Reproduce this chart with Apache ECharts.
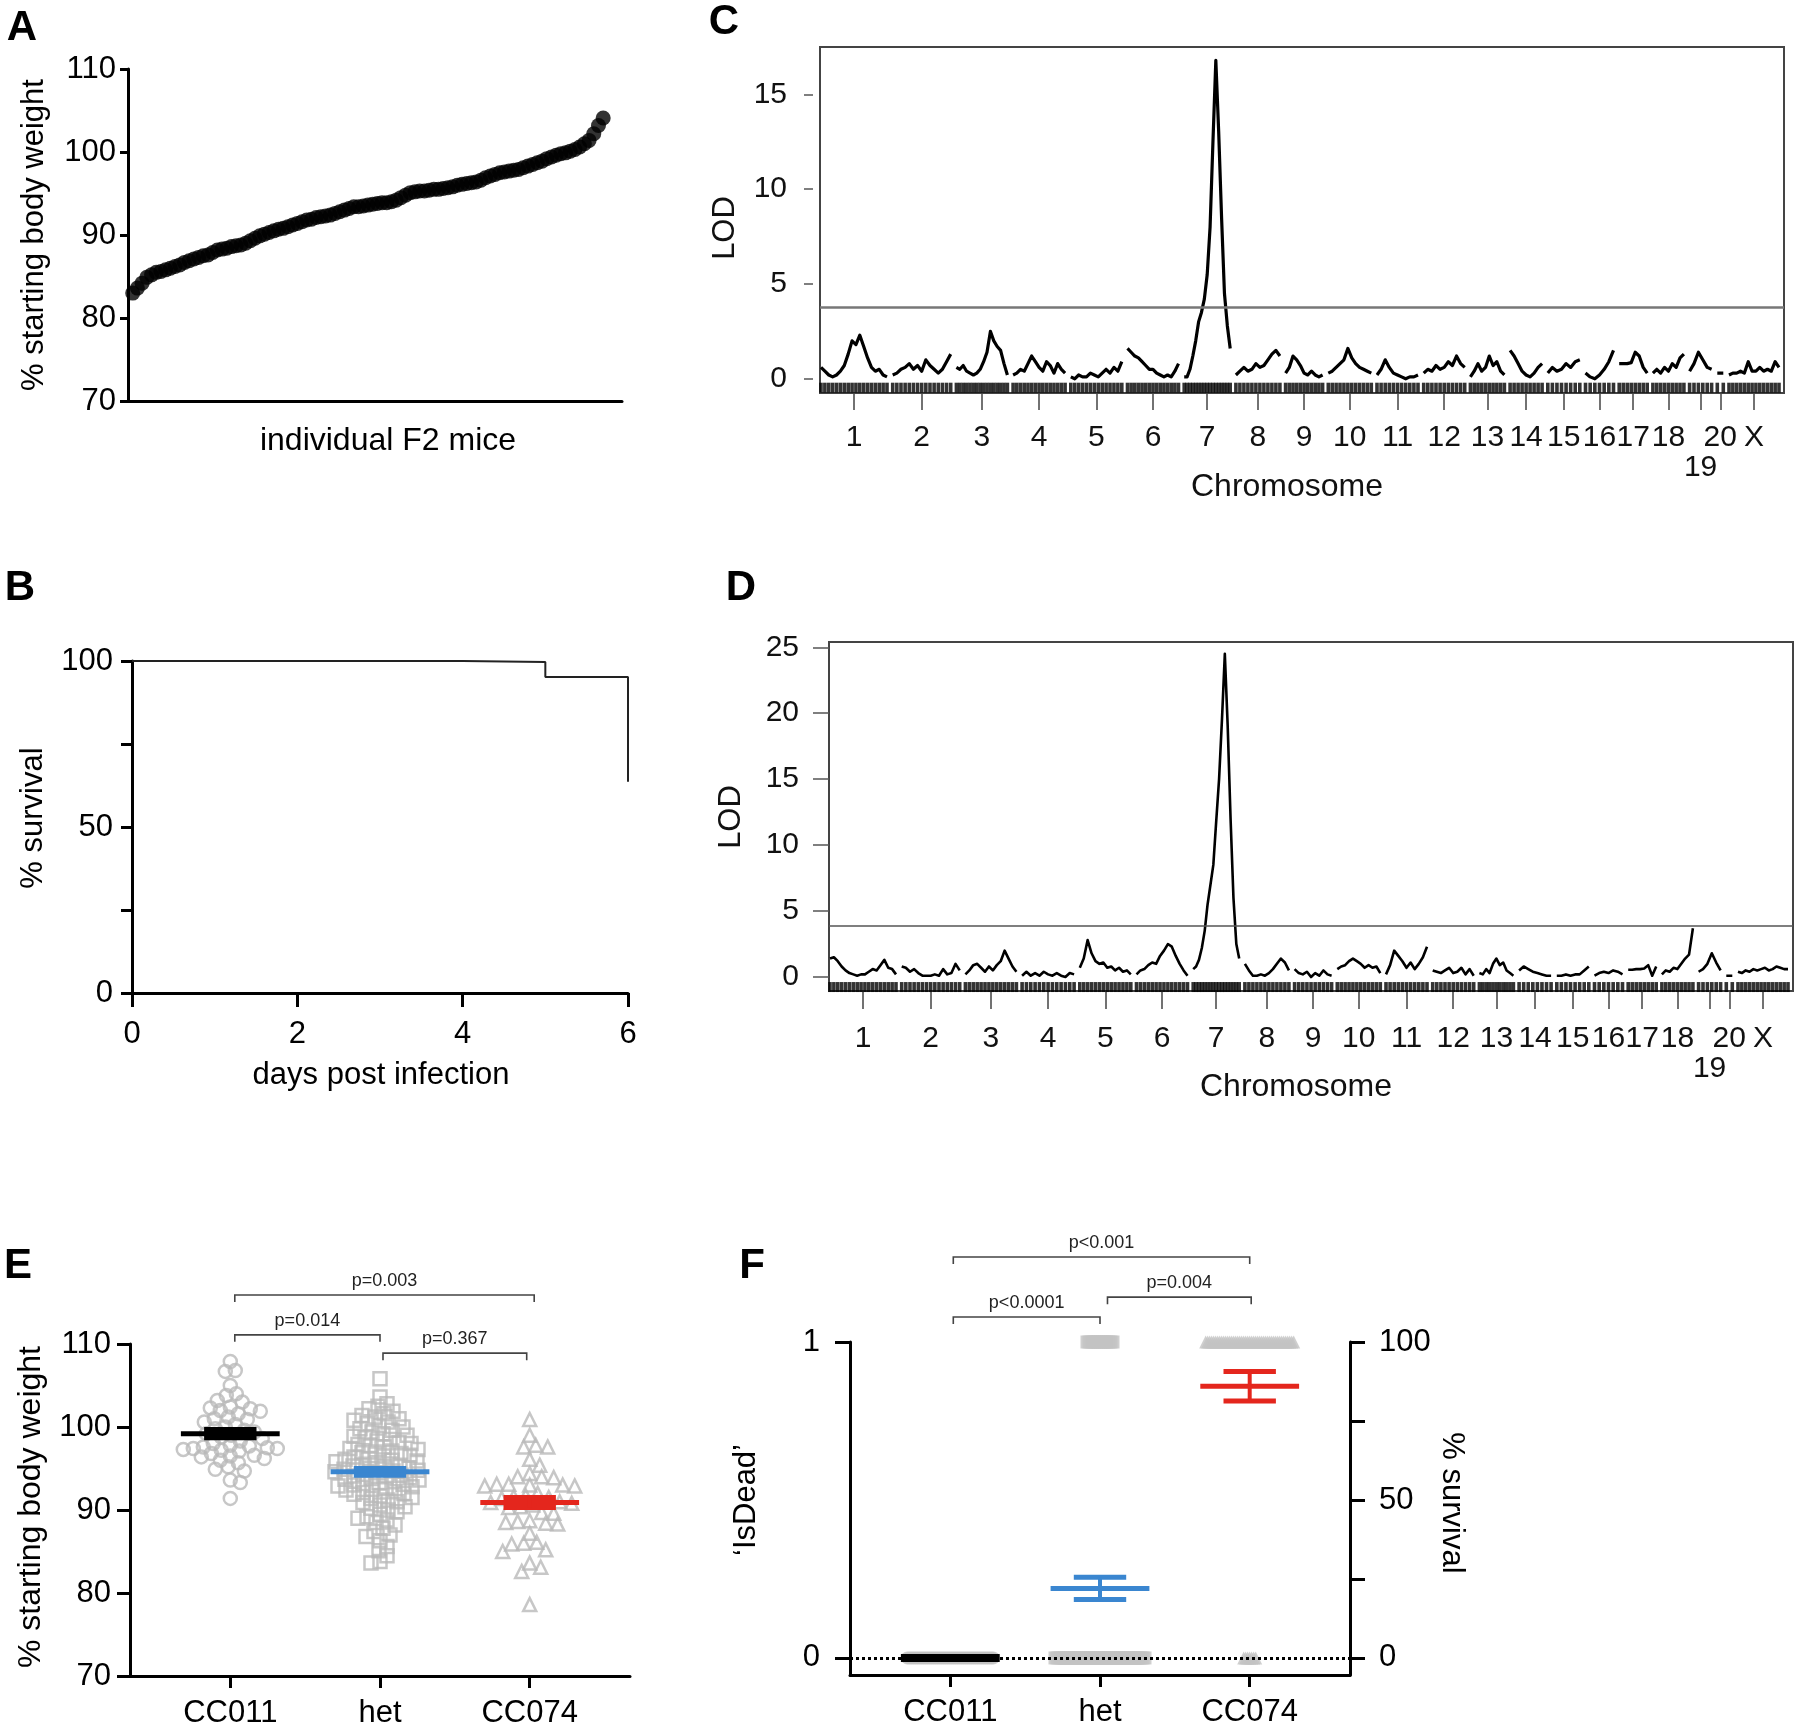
<!DOCTYPE html>
<html><head><meta charset="utf-8">
<script src="https://cdn.jsdelivr.net/npm/echarts@6/dist/echarts.min.js"></script>
<style>html,body{margin:0;padding:0;background:#fff}#c{width:1800px;height:1729px}</style>
</head><body><div id="c"></div>
<script>
// ================= DATA =================
// A: individual F2 mice, sorted % starting body weight
const weightF2 = [83.0,83.6,84.2,84.9,85.2,85.5,85.6,85.8,86.0,86.2,86.4,86.7,86.9,87.1,87.3,87.5,87.6,87.9,88.2,88.3,
88.4,88.6,88.7,88.8,89.0,89.3,89.6,89.9,90.1,90.3,90.5,90.7,90.8,91.0,91.2,91.4,91.6,91.8,91.9,92.1,
92.2,92.3,92.4,92.6,92.8,93.0,93.2,93.4,93.4,93.5,93.6,93.7,93.8,93.9,93.9,94.0,94.2,94.5,94.8,95.1,
95.2,95.3,95.3,95.4,95.5,95.5,95.6,95.7,95.8,96.0,96.1,96.2,96.3,96.4,96.6,96.9,97.1,97.3,97.5,97.6,
97.7,97.8,97.9,98.1,98.3,98.5,98.7,98.9,99.2,99.4,99.6,99.8,99.9,100.1,100.3,100.6,101.0,101.4,102.2,103.2,104.1];
const yTicksWeight = [70, 80, 90, 100, 110];

// B: survival
const survivalDays = [0, 4, 5, 6];
const survivalPct = [100, 99.7, 95.2, 63.6];
const xTicksDays = [0, 2, 4, 6];
const yTicksSurvival = [0, 25, 50, 75, 100];
const yLabelsSurvival = [0, 50, 100];

// C/D: genome scans
const chromosomes = ['1','2','3','4','5','6','7','8','9','10','11','12','13','14','15','16','17','18','19','20','X'];
const chrLengths = [66,58,51,52,51,51,46,44,37,43,41,41,34,32,32,28,28,31,22,6,50];
const chrGap = 5.7;
const lodC = [
 [0.6,0.4,0.2,0.1,0.2,0.4,0.7,1.3,2.0,1.8,2.3,1.7,1.1,0.6,0.4,0.5,0.2,0.1],
 [0.2,0.3,0.5,0.6,0.8,0.5,0.7,0.4,1.0,0.7,0.5,0.3,0.5,0.9,1.3],
 [0.6,0.5,0.7,0.4,0.3,0.2,0.3,0.5,0.9,1.4,2.5,2.0,1.7,1.5,0.8,0.2],
 [0.2,0.3,0.5,0.4,0.8,1.2,0.9,0.6,0.4,0.9,0.7,0.3,0.8,0.5,0.3],
 [0.1,0.0,0.2,0.1,0.1,0.3,0.2,0.1,0.3,0.5,0.3,0.6,0.4,0.9],
 [1.6,1.4,1.2,1.1,0.9,0.7,0.5,0.5,0.3,0.2,0.1,0.2,0.1,0.4,0.8],
 [0.1,0.1,0.5,1.2,2.0,3.0,3.5,4.2,5.5,8.0,12.5,16.8,13.0,8.5,4.5,2.8,1.6],
 [0.2,0.4,0.6,0.4,0.5,0.8,0.6,0.7,1.0,1.3,1.5,1.2],
 [0.3,0.6,1.2,1.0,0.7,0.3,0.2,0.4,0.2,0.1,0.2],
 [0.3,0.4,0.6,0.8,1.0,1.6,1.1,0.8,0.6,0.5,0.4,0.3],
 [0.2,0.5,1.0,0.6,0.3,0.2,0.1,0.0,0.1,0.1,0.2],
 [0.3,0.5,0.4,0.7,0.5,0.6,0.9,0.7,1.2,0.8,0.6],
 [0.1,0.4,0.8,0.4,0.6,1.2,0.7,0.9,0.4,0.2],
 [1.5,1.2,0.8,0.4,0.2,0.1,0.3,0.6,0.8],
 [0.3,0.6,0.4,0.5,0.8,0.6,0.9,1.0],
 [0.3,0.1,0.0,0.2,0.5,0.9,1.5],
 [0.8,0.8,0.8,0.85,1.4,1.2,0.6,0.3],
 [0.3,0.5,0.3,0.6,0.4,0.8,0.6,1.1,1.3],
 [0.4,0.8,1.4,1.0,0.6,0.5],
 [0.3,0.3],
 [0.2,0.3,0.3,0.4,0.3,0.9,0.4,0.4,0.6,0.4,0.5,0.4,0.9,0.6]
];
const lodD = [
 [1.4,1.5,1.2,0.8,0.5,0.3,0.2,0.1,0.2,0.2,0.4,0.6,0.5,0.9,1.3,0.7,0.6,0.2],
 [0.8,0.7,0.4,0.6,0.3,0.1,0.1,0.1,0.2,0.1,0.6,0.2,0.3,1.0,0.5],
 [0.2,0.5,0.9,1.0,0.7,0.4,0.8,0.5,0.9,1.2,2.0,1.4,0.8,0.4],
 [0.1,0.4,0.1,0.3,0.1,0.4,0.2,0.1,0.3,0.1,0.0,0.3,0.2],
 [0.7,1.4,2.8,1.8,1.2,1.0,1.1,0.7,0.8,0.5,0.7,0.4,0.5,0.2],
 [0.2,0.5,0.6,0.9,1.1,1.0,1.6,2.0,2.5,2.3,1.6,1.0,0.5,0.1],
 [0.6,0.8,1.3,2.2,3.5,5.5,7.0,8.5,11.8,15.0,19.5,24.5,19.0,12.0,6.0,2.5,1.4],
 [1.0,0.5,0.1,0.1,0.2,0.1,0.3,0.6,1.0,1.4,1.1,0.5],
 [0.6,0.3,0.2,0.4,0.0,0.3,0.1,0.5,0.2,0.1],
 [0.6,0.8,0.9,1.2,1.4,1.2,1.0,0.7,0.9,0.7,0.8,0.3],
 [0.2,0.9,2.0,1.6,1.2,0.7,1.1,0.6,1.0,1.5,2.3],
 [0.5,0.4,0.3,0.5,0.7,0.3,0.4,0.7,0.2,0.6,0.1],
 [0.3,0.2,0.6,0.3,1.0,1.4,0.9,1.1,0.5,0.3,0.1],
 [0.5,0.8,0.6,0.4,0.3,0.2,0.1,0.1],
 [0.1,0.1,0.2,0.1,0.2,0.2,0.5,0.8],
 [0.1,0.3,0.4,0.3,0.5,0.4,0.2],
 [0.55,0.55,0.6,0.6,0.65,0.9,0.1,0.8],
 [0.2,0.5,0.4,0.7,0.6,1.0,1.4,1.7,3.7],
 [0.4,0.6,1.0,1.8,1.1,0.5],
 [0.1,0.1],
 [0.4,0.3,0.5,0.4,0.6,0.5,0.6,0.7,0.5,0.6,0.8,0.7,0.6,0.6]
];
const lodThresholdC = 3.75;
const lodThresholdD = 3.9;
const lodTicksC = [0, 5, 10, 15];
const lodTicksD = [0, 5, 10, 15, 20, 25];

// E: weight by genotype
const groups = ['CC011', 'het', 'CC074'];
const groupPos = [1, 2, 3];
const weightCC011 = [107.9,106.8,106.7,105.0,104.0,103.8,103.2,103.0,102.4,102.3,102.2,102.0,101.9,101.6,101.2,101.0,100.9,100.6,100.3,100.0,
99.8,99.6,99.4,99.2,99.0,98.8,98.6,98.3,98.0,97.8,97.7,97.6,97.5,97.4,97.4,97.3,97.2,97.1,96.8,96.6,96.5,96.4,96.2,96.0,95.7,95.2,94.9,94.7,93.6,93.3,91.4];
const weightHet = [105.8,103.6,102.8,102.5,102.2,101.9,101.6,101.4,101.2,101.0,100.8,100.6,100.4,100.2,100.0,99.8,99.6,99.4,99.2,99.0,
98.9,98.7,98.5,98.3,98.1,98.0,97.9,97.7,97.6,97.4,97.3,97.1,97.0,96.9,96.8,96.6,96.5,96.4,96.2,96.1,96.0,
95.9,95.8,95.7,95.5,95.4,95.3,95.2,95.1,95.0,94.9,94.8,94.7,94.6,94.5,94.3,94.2,94.1,94.0,
93.9,93.8,93.7,93.6,93.4,93.3,93.2,93.1,93.0,92.9,92.8,92.6,92.5,92.4,92.2,92.1,92.0,
91.9,91.7,91.5,91.4,91.2,91.0,90.9,90.6,90.4,90.2,90.0,89.8,89.5,89.2,89.0,88.8,88.5,88.2,87.8,87.4,87.0,86.8,86.3,85.6,85.1,84.5,83.8,83.6];
const weightCC074 = [100.9,99.0,97.8,97.6,97.6,96.1,95.4,94.4,94.0,94.0,93.9,93.1,93.1,93.0,93.0,92.9,92.9,92.0,91.7,91.6,91.5,91.4,91.0,90.9,90.8,
90.6,90.4,90.3,89.7,89.6,88.7,88.6,88.5,88.4,88.3,87.2,86.1,86.0,85.9,85.2,85.0,83.6,83.1,82.6,78.6];
const weightMean = [99.2, 94.6, 90.9];
const weightSem = [0.5, 0.4, 0.6];
const pValuesE = ['p=0.003', 'p=0.014', 'p=0.367'];

// F: 'IsDead' by genotype
const aliveCount = [44, 46, 7];
const deadCount = [0, 14, 45];
const deadMean = [0, 0.22, 0.86];
const deadSem = [0, 0.035, 0.047];
const isDeadTicks = [0, 1];
const pValuesF = ['p<0.001', 'p<0.0001', 'p=0.004'];

// ================= LAYOUT / STYLE =================
const FONT = "'Liberation Sans', Arial, Helvetica, sans-serif";
const groupColors = ['#000000', '#3a86d0', '#e4261d'];
const symbolsE = ['circle', 'rect', 'triangle'];
const swarmDiam = [10, 9, 11.5];
const bracketE = [{x1:1.03, x2:3.03, y:115.9}, {x1:1.03, x2:2.0, y:111.1}, {x1:2.02, x2:2.98, y:108.9}];
const bracketF = [{x1:1.02, x2:3.0, y:1.269}, {x1:1.02, x2:2.0, y:1.079}, {x1:2.05, x2:3.01, y:1.142}];

const chart = echarts.init(document.getElementById('c'), null, {renderer:'canvas', width:1800, height:1729});

const chrStarts = [];
(function(){ let p = 1; chrLengths.forEach(L => { chrStarts.push(p); p += L + chrGap; }); })();
const chrMids = chrStarts.map((s, i) => s + chrLengths[i] / 2);
function chrLabel(v) {
  let best = 0, bd = 1e9;
  chrMids.forEach((m, i) => { const d = Math.abs(m - v); if (d < bd) { bd = d; best = i; } });
  const n = chromosomes[best];
  return n === '19' ? '\n' + n : n;
}

const blackAxis = {show:true, onZero:false, lineStyle:{color:'#000', width:3}};
function lbl(extra) { return Object.assign({color:'#000', fontSize:31, fontFamily:FONT}, extra); }
function tick(vals, len, extra) { return Object.assign({show:true, customValues: vals, length: len, lineStyle:{color:'#000', width:3}}, extra || {}); }

const grids = [
  {left:128, top:69, width:494, height:332},
  {left:132, top:661, width:496, height:332},
  {left:820, top:47, width:964, height:346, show:true, borderColor:'#444', borderWidth:2, backgroundColor:'rgba(0,0,0,0)'},
  {left:829, top:642, width:964, height:349, show:true, borderColor:'#444', borderWidth:2, backgroundColor:'rgba(0,0,0,0)'},
  {left:130, top:1344, width:500, height:332},
  {left:850, top:1342, width:500, height:333}
].map(g => Object.assign({containLabel:false, outerBoundsMode:'none'}, g));

const xAxes = [
  {gridIndex:0, type:'value', min:0, max:105, axisLine:blackAxis, axisTick:{show:false}, axisLabel:{show:false}, splitLine:{show:false}},
  {gridIndex:1, type:'value', min:0, max:6, axisLine:blackAxis, axisTick:tick(xTicksDays, 14), axisLabel:lbl({customValues:xTicksDays, margin:26}), splitLine:{show:false}},
  {gridIndex:2, type:'value', min:0, max:964, axisLine:{show:false, onZero:false}, axisTick:{show:true, customValues:chrMids, length:17, lineStyle:{color:'#444', width:1.5}},
    axisLabel:lbl({customValues:chrMids, formatter:chrLabel, margin:30, fontSize:30, lineHeight:30, color:'#111'}), splitLine:{show:false}},
  {gridIndex:3, type:'value', min:0, max:964, axisLine:{show:false, onZero:false}, axisTick:{show:true, customValues:chrMids, length:18, lineStyle:{color:'#444', width:1.5}},
    axisLabel:lbl({customValues:chrMids, formatter:chrLabel, margin:33, fontSize:30, lineHeight:30, color:'#111'}), splitLine:{show:false}},
  {gridIndex:4, type:'value', min:0.33, max:3.67, axisLine:blackAxis, axisTick:tick(groupPos, 12), axisLabel:lbl({customValues:groupPos, formatter:v => groups[Math.round(v)-1], margin:22}), splitLine:{show:false}},
  {gridIndex:5, type:'value', min:0.33, max:3.67, axisLine:blackAxis, axisTick:tick(groupPos, 12), axisLabel:lbl({customValues:groupPos, formatter:v => groups[Math.round(v)-1], margin:22}), splitLine:{show:false}}
];
const yAxes = [
  {gridIndex:0, type:'value', min:70, max:110, axisLine:blackAxis, axisTick:tick(yTicksWeight, 8), axisLabel:lbl({customValues:yTicksWeight, margin:12}), splitLine:{show:false}},
  {gridIndex:1, type:'value', min:0, max:100, axisLine:blackAxis, axisTick:tick(yTicksSurvival, 11), axisLabel:lbl({customValues:yLabelsSurvival, margin:19}), splitLine:{show:false}},
  {gridIndex:2, type:'value', min:-0.75, max:17.5, offset:7, axisLine:{show:false, onZero:false}, axisTick:{show:true, customValues:lodTicksC, length:9, lineStyle:{color:'#555', width:1.5}},
    axisLabel:lbl({customValues:lodTicksC, margin:26, fontSize:30, color:'#111'}), splitLine:{show:false}},
  {gridIndex:3, type:'value', min:-1.06, max:25.4, axisLine:{show:false, onZero:false}, axisTick:{show:true, customValues:lodTicksD, length:16, lineStyle:{color:'#555', width:1.5}},
    axisLabel:lbl({customValues:lodTicksD, margin:30, fontSize:30, color:'#111'}), splitLine:{show:false}},
  {gridIndex:4, type:'value', min:70, max:110, axisLine:blackAxis, axisTick:tick(yTicksWeight, 13), axisLabel:lbl({customValues:yTicksWeight, margin:19}), splitLine:{show:false}},
  {gridIndex:5, type:'value', position:'left', min:-0.054, max:1, axisLine:blackAxis, axisTick:tick(isDeadTicks, 15), axisLabel:lbl({customValues:isDeadTicks, margin:30}), splitLine:{show:false}},
  {gridIndex:5, type:'value', position:'right', min:-5.4, max:100, axisLine:blackAxis, axisTick:tick(yTicksSurvival, 15), axisLabel:lbl({customValues:yLabelsSurvival, margin:29}), splitLine:{show:false}}
];

const series = [];
// A
series.push({type:'scatter', xAxisIndex:0, yAxisIndex:0, data: weightF2.map((v, i) => [i + 1, v]), symbol:'circle', symbolSize:15, itemStyle:{color:'#000'}, silent:true});
// B
series.push({type:'line', xAxisIndex:1, yAxisIndex:1, step:'end', data: survivalDays.map((d, i) => [d, survivalPct[i]]), symbol:'none', lineStyle:{color:'#222', width:2}, silent:true});

// C, D
function lodPanel(lod, ai, lw, rugY, thr, thrStyle) {
  const rug = [];
  lod.forEach((arr, i) => {
    const s = chrStarts[i], L = chrLengths[i], n = arr.length;
    const pts = arr.map((v, j) => [s + L * j / (n - 1), v]);
    pts.forEach(q => rug.push([q[0], rugY]));
    series.push({type:'line', xAxisIndex:ai, yAxisIndex:ai, data:pts, symbol:'none', lineStyle:{color:'#000', width:lw, join:'round'}, silent:true, z:3});
  });
  series.push({type:'scatter', xAxisIndex:ai, yAxisIndex:ai, data:rug, symbol:'rect', symbolSize:[3.6, 10], itemStyle:{color:'#000'}, silent:true, z:2,
    markLine:{silent:true, symbol:['none','none'], label:{show:false}, lineStyle:thrStyle, data:[{yAxis:thr}]}});
}
lodPanel(lodC, 2, 3.2, -0.47, lodThresholdC, {color:'#777', width:2.5, type:'solid'});
lodPanel(lodD, 3, 2.6, -0.76, lodThresholdD, {color:'#555', width:1.6, type:'solid'});

// E: beeswarm
function swarm(vals, center, diam, pxPerX, pxPerY) {
  const placed = [];
  return vals.slice().sort((a, b) => b - a).map(v => {
    const py = v * pxPerY;
    let off = 0;
    for (let k = 0; k < 400; k++) {
      const cand = (k % 2 ? 1 : -1) * Math.ceil(k / 2);
      let ok = true;
      for (const q of placed) { const dx = q.x - cand, dy = q.y - py; if (dx * dx + dy * dy < diam * diam) { ok = false; break; } }
      if (ok) { off = cand; break; }
    }
    placed.push({x: off, y: py});
    return [center + off / pxPerX, v];
  });
}
const pxX = 500 / 3.34, pxY = 332 / 40;
[weightCC011, weightHet, weightCC074].forEach((vals, g) => {
  series.push({type:'scatter', xAxisIndex:4, yAxisIndex:4, data: swarm(vals, groupPos[g], swarmDiam[g], pxX, pxY), symbol:symbolsE[g], symbolSize:13,
    itemStyle:{color:'rgba(0,0,0,0)', borderColor:'#b9b9b9', borderWidth:2.5}, silent:true, z:2});
});

function meanSeries(ai, means, sems, widths) {
  return {type:'custom', xAxisIndex:ai, yAxisIndex:ai, silent:true, z:5, clip:false,
    data: means.map((m, g) => ({value:[groupPos[g], m, sems[g]], itemStyle:{color:groupColors[g]}})),
    renderItem: function(params, api) {
      const x = api.value(0), m = api.value(1), s = api.value(2);
      const color = api.visual('color');
      const lw = widths[params.dataIndex];
      const c = (a, b) => api.coord([a, b]);
      const mk = (p, q, w) => ({type:'line', shape:{x1:p[0], y1:p[1], x2:q[0], y2:q[1]}, style:{stroke:color, lineWidth:w, lineCap:'butt'}});
      const ch = [mk(c(x - 0.33, m), c(x + 0.33, m), lw)];
      if (s > 0) {
        ch.push(mk(c(x - 0.175, m + s), c(x + 0.175, m + s), 5));
        ch.push(mk(c(x - 0.175, m - s), c(x + 0.175, m - s), 5));
        ch.push(mk(c(x, m - s), c(x, m + s), 4));
      }
      return {type:'group', children:ch};
    }};
}
series.push(meanSeries(4, weightMean, weightSem, [5, 5, 5]));

function bracketSeries(ai, layout, labels) {
  return {type:'custom', xAxisIndex:ai, yAxisIndex:ai, silent:true, z:5, clip:false,
    data: layout.map(b => [b.x1, b.x2, b.y]),
    encode:{x:[0, 1], y:2},
    renderItem: function(params, api) {
      const p1 = api.coord([api.value(0), api.value(2)]);
      const p2 = api.coord([api.value(1), api.value(2)]);
      const tip = 7;
      return {type:'group', children:[
        {type:'polyline', shape:{points:[[p1[0], p1[1] + tip], [p1[0], p1[1]], [p2[0], p2[1]], [p2[0], p2[1] + tip]]}, style:{stroke:'#444', lineWidth:1.6, fill:null}},
        {type:'text', style:{text:labels[params.dataIndex], x:(p1[0] + p2[0]) / 2, y:p1[1] - 5, align:'center', verticalAlign:'bottom', textAlign:'center', textVerticalAlign:'bottom', font:'18px ' + FONT, fill:'#222'}}
      ]};
    }};
}
series.push(bracketSeries(4, bracketE, pValuesE));

// F
series.push({type:'line', xAxisIndex:5, yAxisIndex:5, data:[], silent:true, z:1,
  markLine:{silent:true, symbol:['none','none'], label:{show:false}, lineStyle:{color:'#000', width:3, type:'dotted'}, data:[{yAxis:0}]}});
const spacing = 2 / pxX;
groups.forEach((gname, g) => {
  const pts = [];
  [[aliveCount[g], 0], [deadCount[g], 1]].forEach(([n, y]) => {
    for (let k = 0; k < n; k++) pts.push([groupPos[g] + (k - (n - 1) / 2) * spacing, y]);
  });
  series.push({type:'scatter', xAxisIndex:5, yAxisIndex:5, data:pts, symbol:symbolsE[g], symbolSize:13, itemStyle:{color:'#c3c3c3'}, silent:true, z:2});
});
series.push(meanSeries(5, deadMean, deadSem, [8, 5, 5]));
series.push(bracketSeries(5, bracketF, pValuesF));

// texts
function T(x, y, text, size, opt) {
  opt = opt || {};
  return {type:'text', x:x, y:y, rotation:opt.rot || 0, z:100, silent:true,
    style:{text:text, fill:opt.color || '#000', font:(opt.bold ? 'bold ' : '') + size + 'px ' + FONT,
      align:'center', verticalAlign:'middle', textAlign:'center', textVerticalAlign:'middle'}};
}
const R = Math.PI / 2;
const graphic = [
  T(22, 28, 'A', 42, {bold:true}), T(20, 588, 'B', 42, {bold:true}), T(724, 22, 'C', 42, {bold:true}),
  T(741, 588, 'D', 42, {bold:true}), T(18, 1266, 'E', 42, {bold:true}), T(752, 1266, 'F', 42, {bold:true}),
  T(34, 235, '% starting body weight', 31, {rot:R}), T(388, 441, 'individual F2 mice', 32),
  T(33, 818, '% survival', 31, {rot:R}), T(381, 1075, 'days post infection', 31),
  T(725, 228, 'LOD', 31, {rot:R, color:'#111'}), T(1287, 487, 'Chromosome', 32, {color:'#111'}),
  T(731, 817, 'LOD', 31, {rot:R, color:'#111'}), T(1296, 1087, 'Chromosome', 32, {color:'#111'}),
  T(31, 1507, '% starting body weight', 32, {rot:R}),
  T(746, 1500, '\u2018IsDead\u2019', 31, {rot:R}), T(1452, 1503, '% survival', 31, {rot:-R})
];

chart.setOption({
  animation:false,
  backgroundColor:'#fff',
  textStyle:{fontFamily:FONT},
  grid:grids, xAxis:xAxes, yAxis:yAxes, series:series, graphic:graphic
});
</script></body></html>
